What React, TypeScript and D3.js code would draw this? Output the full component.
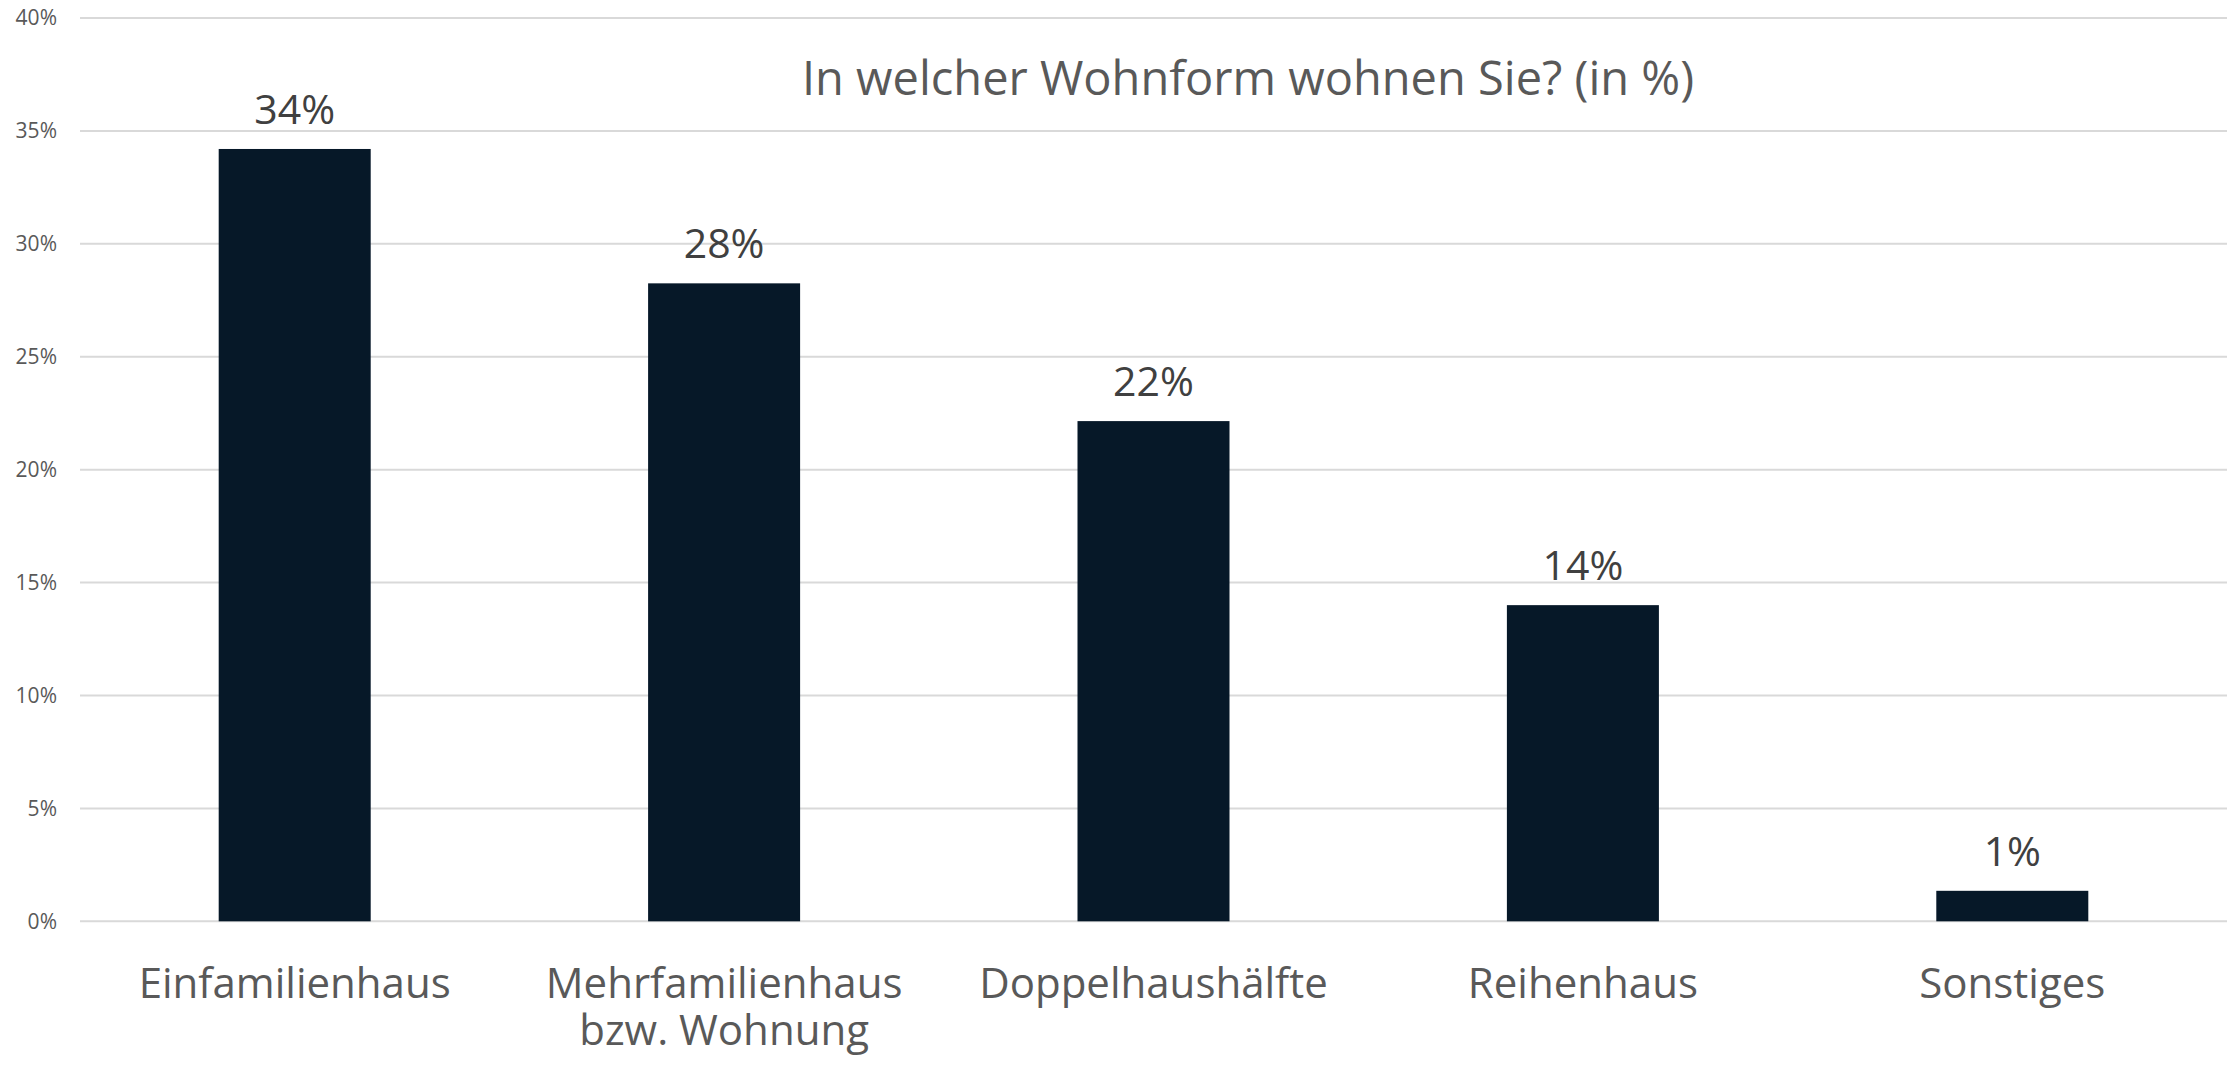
import React from "react";
import * as d3 from "d3";

const title = "In welcher Wohnform wohnen Sie? (in %)";
const categories: string[][] = [
  ["Einfamilienhaus"],
  ["Mehrfamilienhaus", "bzw. Wohnung"],
  ["Doppelhaushälfte"],
  ["Reihenhaus"],
  ["Sonstiges"],
];
const values = [34.2, 28.25, 22.15, 14.0, 1.35];
const valueLabels = ["34%", "28%", "22%", "14%", "1%"];
const yTicks = [0, 5, 10, 15, 20, 25, 30, 35, 40];

const W = 2239;
const H = 1066;
const FONT = "'Open Sans', 'Noto Sans', sans-serif";

export default function App() {
  const left = 80;
  const right = 2227;
  const top = 18;
  const bottom = 921.3;

  const x = d3
    .scaleBand<number>()
    .domain(categories.map((_, i) => i))
    .range([left, right])
    .paddingInner(0.646)
    .paddingOuter(0.323);
  const y = d3.scaleLinear().domain([0, 40]).range([bottom, top]);
  const center = (i: number) => (x(i) as number) + x.bandwidth() / 2;
  const barW = x.bandwidth();

  return (
    <svg
      width={W}
      height={H}
      style={{ position: "absolute", left: 0, top: 0, background: "#fff" }}
    >
      <rect x={0} y={0} width={W} height={H} fill="#fff" />
      {yTicks.map((t) => (
        <g key={t}>
          <line
            x1={left}
            x2={right}
            y1={y(t)}
            y2={y(t)}
            stroke="#d9d9d9"
            strokeWidth={2}
          />
          <text
            x={57}
            y={y(t)}
            dy="0.35em"
            textAnchor="end"
            fontFamily={FONT}
            fontSize={21}
            fill="#595959"
          >
            {t}%
          </text>
        </g>
      ))}
      {values.map((v, i) => (
        <g key={i}>
          <rect
            x={center(i) - barW / 2}
            y={y(v)}
            width={barW}
            height={bottom - y(v)}
            fill="#061828"
          />
          <text
            x={center(i)}
            y={y(v) - 25}
            textAnchor="middle"
            fontFamily={FONT}
            fontSize={41}
            fill="#404040"
          >
            {valueLabels[i]}
          </text>
        </g>
      ))}
      {categories.map((lines, i) =>
        lines.map((l, j) => (
          <text
            key={`${i}-${j}`}
            x={center(i)}
            y={998 + j * 47}
            textAnchor="middle"
            fontFamily={FONT}
            fontSize={42}
            fill="#595959"
          >
            {l}
          </text>
        ))
      )}
      <text
        x={1248}
        y={95}
        textAnchor="middle"
        fontFamily={FONT}
        fontSize={47}
        fill="#595959"
      >
        {title}
      </text>
    </svg>
  );
}
